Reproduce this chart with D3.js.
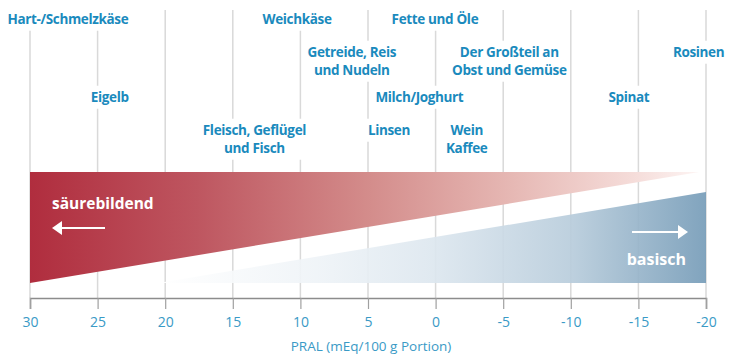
<!DOCTYPE html>
<html><head><meta charset="utf-8">
<script src="https://cdn.jsdelivr.net/npm/d3@7"></script>
<style>
html,body{margin:0;padding:0;background:#fff;}
svg{display:block;}
text{font-family:"Open Sans","Noto Sans",sans-serif;}
</style></head>
<body><svg id="chart" width="737" height="357"></svg>
<script>
// ---- data ----
const tickValues = [30, 25, 20, 15, 10, 5, 0, -5, -10, -15, -20];
const tickLabels = ["30", "25", "20", "15", "10", "5", "0", "-5", "-10", "-15", "-20"];
const foodNames = [
  ["Hart-/Schmelzkäse"],
  ["Eigelb"],
  ["Fleisch, Geflügel", "und Fisch"],
  ["Weichkäse"],
  ["Getreide, Reis", "und Nudeln"],
  ["Linsen"],
  ["Milch/Joghurt"],
  ["Fette und Öle"],
  ["Wein", "Kaffee"],
  ["Der Großteil an", "Obst und Gemüse"],
  ["Spinat"],
  ["Rosinen"]
];
const foodPral = [27.2, 24.1, 13.4, 10.25, 6.2, 3.45, 1.2, 0.05, -2.3, -5.45, -14.3, -19.45];
const foodTier = [0, 2, 3, 0, 1, 3, 2, 0, 3, 1, 2, 1];
const axisTitle = "PRAL (mEq/100 g Portion)";
const acidLabel = "säurebildend";
const baseLabel = "basisch";

// ---- layout ----
const svg = d3.select("#chart");
const x = d3.scaleLinear().domain([30, -20]).range([30, 706]);
const axisY = 298, gridTop = 10;
const tierY = [19, 52, 97, 130];
const lineH = 18;
const labelColor = "#1a8abd";

const defs = svg.append("defs");
const rg = defs.append("linearGradient").attr("id", "redGrad")
  .attr("gradientUnits", "userSpaceOnUse").attr("x1", x(30)).attr("x2", x(-19.5)).attr("y1", 0).attr("y2", 0);
[[0, "#b02d3e"], [0.25, "#be5660"], [0.5, "#d38b8a"], [0.72, "#e6b8b4"], [0.9, "#f5dcd9"], [1, "#fdf4f3"]]
  .forEach(([o, c]) => rg.append("stop").attr("offset", o).attr("stop-color", c));
const bg = defs.append("linearGradient").attr("id", "blueGrad")
  .attr("gradientUnits", "userSpaceOnUse").attr("x1", x(20.5)).attr("x2", x(-20)).attr("y1", 0).attr("y2", 0);
[[0, "#ffffff"], [0.3, "#eef3f7"], [0.5, "#dde7ef"], [0.75, "#b9cddc"], [1, "#769cb8"]]
  .forEach(([o, c]) => bg.append("stop").attr("offset", o).attr("stop-color", c));

// gridlines
svg.append("g").selectAll("line").data(tickValues).join("line")
  .attr("x1", d => x(d)).attr("x2", d => x(d))
  .attr("y1", gridTop).attr("y2", axisY)
  .attr("stroke", "#d9d9d9").attr("stroke-width", 1.5);

// bands
const bandTop = 172, bandBot = 283;
svg.append("path")
  .attr("d", `M${x(30)},${bandTop}L${x(-19.5)},${bandTop}L${x(30)},${bandBot}Z`)
  .attr("fill", "url(#redGrad)");
svg.append("path")
  .attr("d", `M${x(20.5)},${bandBot}L${x(-20)},${192}L${x(-20)},${bandBot}Z`)
  .attr("fill", "url(#blueGrad)").attr("opacity", 0.92);

// band labels + arrows
svg.append("text").attr("x", 52).attr("y", 209).text(acidLabel)
  .attr("fill", "#fff").attr("font-weight", 700).attr("font-size", 15.5);
svg.append("line").attr("x1", 105).attr("x2", 60).attr("y1", 228).attr("y2", 228)
  .attr("stroke", "#fff").attr("stroke-width", 2);
svg.append("path").attr("d", "M52,228L62,221L62,235Z").attr("fill", "#fff");
svg.append("text").attr("x", 686).attr("y", 265).attr("text-anchor", "end").text(baseLabel)
  .attr("fill", "#fff").attr("font-weight", 700).attr("font-size", 16);
svg.append("line").attr("x1", 632).attr("x2", 680).attr("y1", 232).attr("y2", 232)
  .attr("stroke", "#fff").attr("stroke-width", 2);
svg.append("path").attr("d", "M688,232L678,225L678,239Z").attr("fill", "#fff");

// axis
const axis = d3.axisBottom(x).tickValues(tickValues).tickSize(11).tickPadding(8)
  .tickFormat((d, i) => tickLabels[i]);
const ag = svg.append("g").attr("transform", `translate(0,${axisY})`).call(axis);
ag.select(".domain").attr("stroke", "#8c8c8c").attr("stroke-width", 1.6);
ag.selectAll(".tick line").attr("stroke", "#a0a0a0").attr("stroke-width", 1.2);
ag.selectAll(".tick text").attr("fill", "#3a9ac6").attr("font-size", 14)
  .attr("font-family", "'Open Sans',sans-serif");
svg.append("text").attr("x", x(5) + 3).attr("y", 351).attr("text-anchor", "middle")
  .text(axisTitle).attr("fill", "#3a9ac6").attr("font-size", 13.5);

// food labels
const lg = svg.append("g");
foodNames.forEach((lines, i) => {
  const g = lg.append("g");
  const cx = x(foodPral[i]);
  const y0 = tierY[foodTier[i]];
  const t = g.append("text").attr("text-anchor", "middle")
    .attr("fill", labelColor).attr("font-weight", 700).attr("font-size", 13.5)
    .attr("letter-spacing", -0.35);
  lines.forEach((s, j) => {
    t.append("tspan").attr("x", cx).attr("y", y0 + j * lineH).attr("dy", "0.35em").text(s);
  });
  const bb = t.node().getBBox();
  g.insert("rect", "text").attr("x", bb.x - 3).attr("y", bb.y - 2)
    .attr("width", bb.width + 6).attr("height", bb.height + 5).attr("fill", "#fff");
});
</script></body></html>
